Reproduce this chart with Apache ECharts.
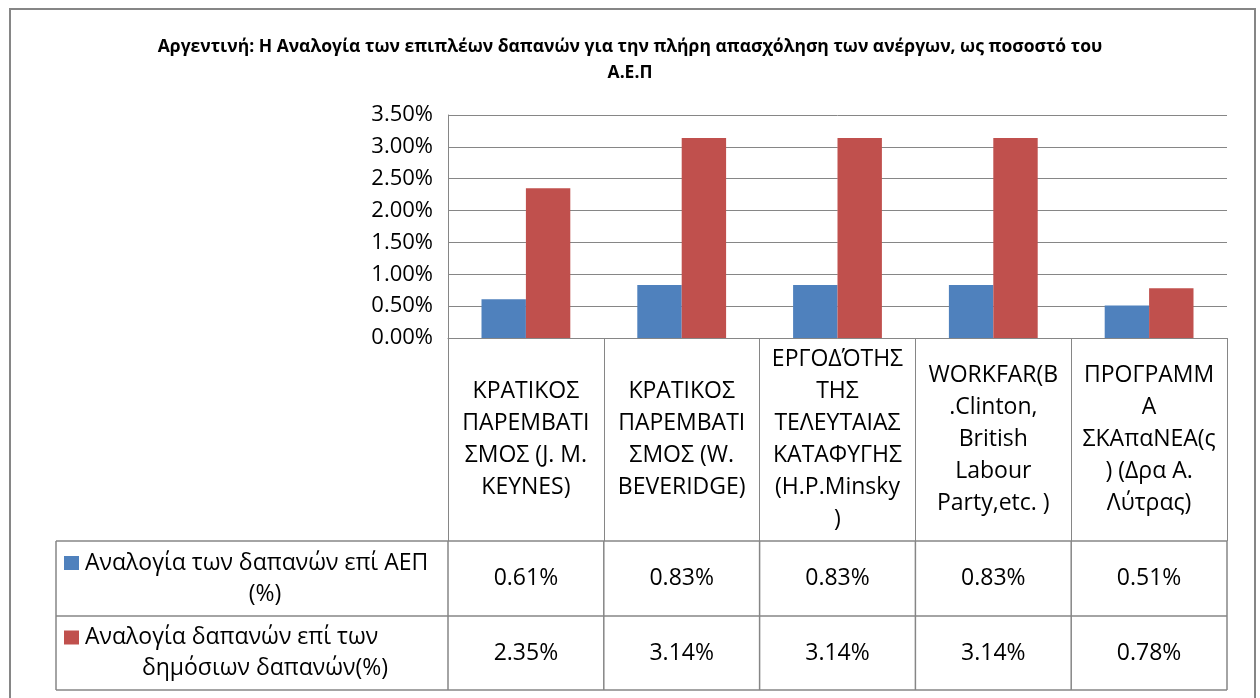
<!DOCTYPE html>
<html>
<head>
<meta charset="utf-8">
<script src="https://cdn.jsdelivr.net/npm/echarts@6/dist/echarts.min.js"></script>
<style>
html,body{margin:0;padding:0;background:#fff;}
#chart{width:1260px;height:698px;}
</style>
</head>
<body>
<div id="chart"></div>
<script>
const titleText = 'Αργεντινή: Η Αναλογία των επιπλέων δαπανών για την πλήρη απασχόληση των ανέργων, ως ποσοστό του\nΑ.Ε.Π';
const categories = [
  'ΚΡΑΤΙΚΟΣ\nΠΑΡΕΜΒΑΤΙ\nΣΜΟΣ (J. M.\nKEYNES)',
  'ΚΡΑΤΙΚΟΣ\nΠΑΡΕΜΒΑΤΙ\nΣΜΟΣ (W.\nBEVERIDGE)',
  'ΕΡΓΟΔΌΤΗΣ\nΤΗΣ\nΤΕΛΕΥΤΑΙΑΣ\nΚΑΤΑΦΥΓΗΣ\n(H.P.Minsky\n)',
  'WORKFAR(B\n.Clinton,\nBritish\nLabour\nParty,etc. )',
  'ΠΡΟΓΡΑΜΜ\nΑ\nΣΚΑπαΝΕΑ(ς\n) (Δρα Α.\nΛύτρας)'
];
const seriesNames = ['Αναλογία των δαπανών επί ΑΕΠ\n(%)', 'Αναλογία δαπανών επί των\nδημόσιων δαπανών(%)'];
const gdpShare = [0.0061, 0.0083, 0.0083, 0.0083, 0.0051];
const publicShare = [0.0235, 0.0314, 0.0314, 0.0314, 0.0078];
const yTicks = [0, 0.005, 0.01, 0.015, 0.02, 0.025, 0.03, 0.035];

const colors = ['#4F81BD', '#C0504D'];
const FONT = '"Open Sans", "Noto Sans", sans-serif';
const GRAY = '#868686';
const fmt = v => (v * 100).toFixed(2) + '%';

const chart = echarts.init(document.getElementById('chart'), null, {renderer: 'canvas'});

const gridTop = 115, gridBottomY = 338, gridLeft = 448, gridRight = 1227;
const catRowBottom = 541, row1Bottom = 616, row2Bottom = 690, tableLeft = 56;

const option = {
  animation: false,
  backgroundColor: '#fff',
  title: {
    text: titleText,
    left: 'center',
    top: 29,
    textStyle: {fontFamily: FONT, fontWeight: 'bold', fontSize: 17.5, color: '#000', lineHeight: 26}
  },
  grid: {left: gridLeft, right: 1260 - gridRight, top: gridTop, height: gridBottomY - gridTop, containLabel: false},
  xAxis: {
    type: 'category',
    data: categories,
    axisLine: {show: true, lineStyle: {color: GRAY, width: 1}},
    axisTick: {show: true, length: catRowBottom - gridBottomY, interval: 0, lineStyle: {color: GRAY, width: 1}},
    axisLabel: {
      interval: 0, margin: (catRowBottom - gridBottomY) / 2, verticalAlign: 'middle',
      fontFamily: FONT, fontSize: 23, lineHeight: 32, color: '#000', align: 'center'
    }
  },
  yAxis: {
    type: 'value',
    min: yTicks[0], max: yTicks[yTicks.length - 1], interval: yTicks[1] - yTicks[0],
    axisLine: {show: true, lineStyle: {color: GRAY, width: 1}},
    axisTick: {show: false},
    splitLine: {show: true, lineStyle: {color: GRAY, width: 1}},
    axisLabel: {formatter: fmt, fontFamily: FONT, fontSize: 22, color: '#000', margin: 15}
  },
  series: [
    {name: seriesNames[0], type: 'bar', data: gdpShare, itemStyle: {color: colors[0]}, barGap: '0%', barCategoryGap: '43%'},
    {name: seriesNames[1], type: 'bar', data: publicShare, itemStyle: {color: colors[1]}, barGap: '0%', barCategoryGap: '43%'}
  ]
};
chart.setOption(option);

// Build the data table under the chart from the axis scale
const centers = categories.map((c, i) => chart.convertToPixel({xAxisIndex: 0}, i));
const band = centers.length > 1 ? centers[1] - centers[0] : (gridRight - gridLeft);
const bounds = [centers[0] - band / 2].concat(centers.map(c => c + band / 2));

const g = [];
g.push({type: 'rect', shape: {x: 10, y: 9, width: 1245, height: 700}, style: {fill: 'none', stroke: GRAY, lineWidth: 2}, silent: true});
[catRowBottom, row1Bottom, row2Bottom].forEach(y => {
  g.push({type: 'line', shape: {x1: tableLeft, y1: y, x2: bounds[bounds.length - 1], y2: y}, style: {stroke: GRAY, lineWidth: 1.5}, silent: true});
});
[tableLeft].concat(bounds).forEach(x => {
  g.push({type: 'line', shape: {x1: x, y1: catRowBottom, x2: x, y2: row2Bottom}, style: {stroke: GRAY, lineWidth: 1.5}, silent: true});
});
const rowTops = [catRowBottom, row1Bottom];
const rowBottoms = [row1Bottom, row2Bottom];
const rowData = [gdpShare, publicShare];
const LH = 31;
rowData.forEach((arr, r) => {
  const cy = (rowTops[r] + rowBottoms[r]) / 2;
  const lines = seriesNames[r].split('\n');
  const y1 = cy - LH / 2, y2 = cy + LH / 2;
  // legend key
  g.push({type: 'rect', shape: {x: 64, y: y1 - 7, width: 15, height: 14}, style: {fill: colors[r]}, silent: true});
  g.push({type: 'text', x: 85, y: y1, silent: true,
    style: {text: lines[0], fontFamily: FONT, fontSize: 23, fill: '#000', align: 'left', verticalAlign: 'middle'}});
  g.push({type: 'text', x: 265, y: y2, silent: true,
    style: {text: lines.slice(1).join(' '), fontFamily: FONT, fontSize: 23, fill: '#000', align: 'center', verticalAlign: 'middle'}});
  arr.forEach((v, i) => {
    g.push({
      type: 'text', x: centers[i], y: cy, silent: true,
      style: {text: fmt(v), fontFamily: FONT, fontSize: 23, fill: '#000', align: 'center', verticalAlign: 'middle'}
    });
  });
});
chart.setOption({graphic: g});
</script>
</body>
</html>
